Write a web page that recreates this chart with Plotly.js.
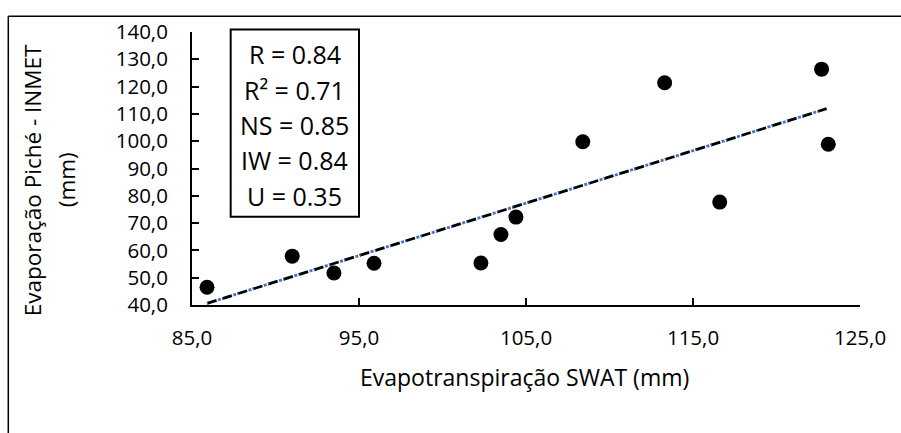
<!DOCTYPE html>
<html>
<head>
<meta charset="utf-8">
<script src="https://cdn.plot.ly/plotly-3.0.1.min.js"></script>
<style>html,body{margin:0;padding:0;background:#fff;}#chart{width:901px;height:433px;}</style>
</head>
<body>
<div id="chart"></div>
<script>
// Data
const swatET = [85.9, 91.0, 93.5, 95.9, 102.3, 103.5, 104.4, 108.4, 113.3, 116.6, 122.7, 123.1];
const picheEvap = [46.5, 57.9, 51.7, 55.3, 55.4, 65.8, 72.2, 99.8, 121.4, 77.7, 126.4, 98.9];
const trendX = [85.9, 123.0];
const trendY = [40.6, 111.9];
const xTicks = [85, 95, 105, 115, 125];
const yTicks = [40, 50, 60, 70, 80, 90, 100, 110, 120, 130, 140];
const statsLines = ["R = 0.84", "R² = 0.71", "NS = 0.85", "IW = 0.84", "U = 0.35"];
const xTitle = "Evapotranspiração SWAT (mm)";
const yTitleLines = ["Evaporação Piché - INMET", "(mm)"];

const FONT = "Open Sans, Noto Sans, sans-serif";

const traces = [
  {x: trendX, y: trendY, mode: "lines", type: "scatter", hoverinfo: "skip",
   line: {color: "#000000", width: 2.8, dash: "10px,6px"}, showlegend: false},
  {x: trendX, y: trendY, mode: "lines", type: "scatter", hoverinfo: "skip",
   line: {color: "#4472C4", width: 2.8, dash: "1px,10.5px,3px,1.5px"}, showlegend: false},
  {x: swatET, y: picheEvap, mode: "markers", type: "scatter",
   marker: {color: "#000000", size: 15}, showlegend: false}
];

const statY = [0.9192, 0.7893, 0.6594, 0.5295, 0.3996];
const annotations = statsLines.map((t, i) => ({
  text: t, xref: "paper", yref: "paper", x: 0.154, y: statY[i],
  xanchor: "center", yanchor: "middle", showarrow: false,
  font: {family: FONT, size: 25, color: "#000"}
}));
annotations.push({
  text: xTitle, xref: "paper", yref: "paper", x: 0.4985, y: -0.263,
  xanchor: "center", yanchor: "middle", showarrow: false,
  font: {family: FONT, size: 23, color: "#000"}
});
annotations.push({
  text: yTitleLines[0], xref: "paper", yref: "paper", x: (32 - 192) / 668, y: 0.457,
  xanchor: "center", yanchor: "middle", showarrow: false, textangle: -90,
  font: {family: FONT, size: 22.5, color: "#000"}
});
annotations.push({
  text: yTitleLines[1], xref: "paper", yref: "paper", x: (66 - 192) / 668, y: 0.457,
  xanchor: "center", yanchor: "middle", showarrow: false, textangle: -90,
  font: {family: FONT, size: 22.5, color: "#000"}
});

const layout = {
  width: 901, height: 433,
  margin: {l: 192, r: 41, t: 32, b: 128},
  paper_bgcolor: "#fff", plot_bgcolor: "#fff",
  separators: ",.",
  font: {family: FONT, color: "#000"},
  xaxis: {
    range: [85, 125], tickvals: xTicks, tickformat: ".1f",
    showgrid: false, zeroline: false,
    showline: true, linecolor: "#000", linewidth: 2,
    ticks: "inside", ticklen: 7, tickwidth: 2, tickcolor: "#000",
    tickfont: {family: FONT, size: 20.5, color: "#000"}, ticklabelstandoff: 13
  },
  yaxis: {
    range: [40, 140], tickvals: yTicks, tickformat: ".1f",
    showgrid: false, zeroline: false,
    showline: true, linecolor: "#000", linewidth: 2,
    ticks: "inside", ticklen: 7, tickwidth: 2, tickcolor: "#000",
    tickfont: {family: FONT, size: 20.5, color: "#000"}, ticklabelstandoff: 18
  },
  shapes: [
    {type: "rect", xref: "paper", yref: "paper", x0: 0.0579, x1: 0.25, y0: 0.3231, y1: 1.0088,
     line: {color: "#000", width: 2}, fillcolor: "rgba(0,0,0,0)"},
    {type: "line", xref: "paper", yref: "paper", x0: -0.275, x1: -0.275, y0: -0.6, y1: 1.0574,
     line: {color: "#000", width: 1.5}},
    {type: "line", xref: "paper", yref: "paper", x0: -0.275, x1: 1.2, y0: 1.0574, y1: 1.0574,
     line: {color: "#000", width: 1.5}}
  ],
  annotations: annotations
};

Plotly.newPlot("chart", traces, layout, {displayModeBar: false, staticPlot: true});
</script>
</body>
</html>
